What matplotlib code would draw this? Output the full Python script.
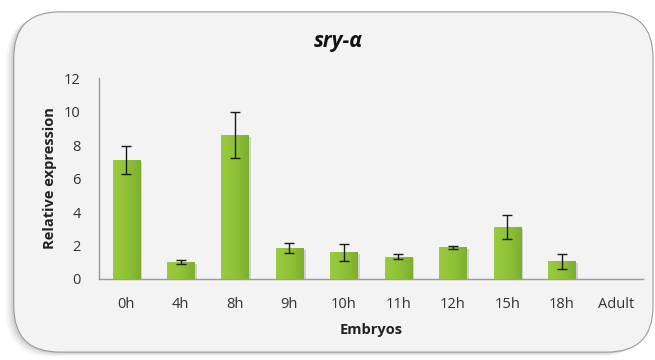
import numpy as np
import matplotlib
matplotlib.use("Agg")
import matplotlib.pyplot as plt
from matplotlib.patches import FancyBboxPatch
from matplotlib import transforms

categories = ["0h", "4h", "8h", "9h", "10h", "11h", "12h", "15h", "18h", "Adult"]
expression = [7.1, 1.0, 8.6, 1.85, 1.6, 1.33, 1.9, 3.1, 1.07, 0.0]
errors = [0.85, 0.13, 1.37, 0.28, 0.5, 0.15, 0.1, 0.72, 0.45, 0.0]
y_ticks = [0, 2, 4, 6, 8, 10, 12]

plt.rcParams["font.family"] = ["Open Sans", "DejaVu Sans"]

fig = plt.figure(figsize=(6.55, 3.6), dpi=100)
fig.patch.set_facecolor("white")

# rounded panel with a soft shadow
px, py, pw, ph = 0.021, 0.022, 0.976, 0.945
for i, a in enumerate([0.04, 0.06, 0.08]):
    d = 0.004 * (3 - i)
    shadow = FancyBboxPatch((px - d, py - d), pw, ph,
                            boxstyle="round,pad=0,rounding_size=0.07",
                            transform=fig.transFigure, facecolor="black",
                            edgecolor="none", alpha=a, zorder=-3,
                            mutation_aspect=655 / 360)
    fig.patches.append(shadow)
panel = FancyBboxPatch((px, py), pw, ph,
                       boxstyle="round,pad=0,rounding_size=0.07",
                       transform=fig.transFigure, facecolor="#f3f3f3",
                       edgecolor="#9a9a9a", linewidth=0.8, zorder=-2,
                       mutation_aspect=655 / 360)
fig.patches.append(panel)

ax = fig.add_axes([0.151, 0.225, 0.831, 0.558])
ax.set_zorder(1)
ax.set_facecolor("none")
x = np.arange(len(categories))
width = 0.5

# bar shadows
shadow_tr = transforms.offset_copy(ax.transData, fig=fig, x=2.5, y=-1.5, units="dots")
ax.bar(x, expression, width=width, color="#555555", alpha=0.22,
       transform=shadow_tr, zorder=1)

bars = ax.bar(x, expression, width=width, color="#8dbf34", zorder=2)

# horizontal gradient on each bar
grad = np.linspace(0, 1, 64).reshape(1, -1)
cmap = matplotlib.colors.LinearSegmentedColormap.from_list(
    "g", ["#9acb3e", "#90c238", "#7dae2e"])
for xi, v, b in zip(x, expression, bars):
    if v <= 0:
        continue
    im = ax.imshow(grad, extent=(xi - width / 2, xi + width / 2, 0, v),
                   cmap=cmap, aspect="auto", zorder=3)
    im.set_clip_path(b)

ax.errorbar(x, expression, yerr=[e if e > 0 else np.nan for e in errors],
            fmt="none", ecolor="#1a1a1a", elinewidth=1.0, capsize=3.5,
            capthick=1.0, zorder=4)

ax.set_xlim(-0.5, len(categories) - 0.5)
ax.set_ylim(0, 12)
ax.set_yticks(y_ticks)
ax.set_xticks(x)
ax.set_xticklabels(categories)
ax.tick_params(length=0, labelsize=10.5, colors="#333333")
ax.tick_params(axis="x", pad=13)
ax.tick_params(axis="y", pad=13)
for s in ["top", "right"]:
    ax.spines[s].set_visible(False)
for s in ["left", "bottom"]:
    ax.spines[s].set_color("#9a9a9a")
    ax.spines[s].set_linewidth(1.0)

ax.set_xlabel("Embryos", fontsize=10.5, fontweight="bold", color="#222222", labelpad=8)
ax.set_ylabel("Relative expression", fontsize=10.5, fontweight="bold",
              color="#222222", labelpad=5)

fig.text(0.516, 0.885, "sry-α", ha="center", va="center", fontsize=15,
         fontweight="bold", fontstyle="italic", color="#111111")

fig.savefig("out.png", dpi=100)
